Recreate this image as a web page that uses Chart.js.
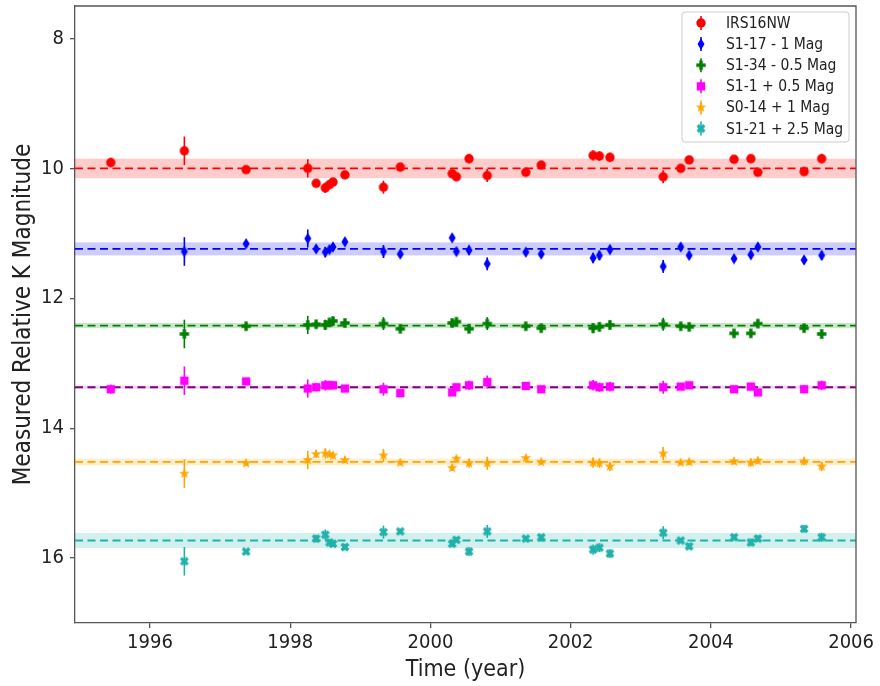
<!DOCTYPE html>
<html>
<head>
<meta charset="utf-8">
<script src="https://cdn.jsdelivr.net/npm/chart.js@4.4.1/dist/chart.umd.min.js"></script>
<style>
  html, body { margin: 0; padding: 0; background: #fff; }
  #wrap { width: 880px; height: 686px; position: relative; }
</style>
</head>
<body>
<div id="wrap"><canvas id="magChart"></canvas></div>
<script>
// observation epochs (decimal year)
const epochs = [1995.44, 1996.49, 1997.37, 1998.25, 1998.37, 1998.50, 1998.56, 1998.61, 1998.78,
  1999.33, 1999.57, 2000.31, 2000.37, 2000.55, 2000.81, 2001.36, 2001.58, 2002.32, 2002.41,
  2002.56, 2003.32, 2003.57, 2003.69, 2004.33, 2004.57, 2004.67, 2005.33, 2005.58];
// photometric error per epoch (mag)
const epochErr = [0.07, 0.22, 0.04, 0.14, 0.06, 0.08, 0.05, 0.05, 0.05, 0.10, 0.04, 0.05, 0.04,
  0.07, 0.10, 0.04, 0.04, 0.08, 0.07, 0.07, 0.10, 0.04, 0.05, 0.05, 0.06, 0.05, 0.06, 0.07];

const irs16nw = [9.91, 9.73, 10.02, 10.00, 10.23, 10.30, 10.25, 10.21, 10.10, 10.29, 9.98, 10.08, 10.13,
  9.85, 10.11, 10.06, 9.95, 9.80, 9.81, 9.83, 10.13, 10.00, 9.87, 9.86, 9.85, 10.06, 10.05, 9.85];
const s1_17 = [null, 11.28, 11.16, 11.08, 11.24, 11.29, 11.25, 11.21, 11.13, 11.28, 11.32, 11.07, 11.28,
  11.26, 11.47, 11.29, 11.32, 11.38, 11.34, 11.25, 11.51, 11.21, 11.34, 11.39, 11.33, 11.21, 11.41, 11.34];
const s1_34 = [null, 12.55, 12.43, 12.41, 12.40, 12.41, 12.37, 12.35, 12.38, 12.39, 12.47, 12.38, 12.36,
  12.47, 12.39, 12.43, 12.46, 12.46, 12.44, 12.41, 12.40, 12.43, 12.44, 12.54, 12.54, 12.39, 12.46, 12.55];
const s1_1 = [13.40, 13.27, 13.28, 13.39, 13.37, 13.34, 13.34, 13.34, 13.39, 13.40, 13.46, 13.45, 13.37,
  13.34, 13.29, 13.35, 13.40, 13.34, 13.37, 13.36, 13.37, 13.36, 13.34, 13.40, 13.36, 13.45, 13.40, 13.34];
const s0_14 = [null, 14.70, 14.54, 14.49, 14.40, 14.39, 14.40, 14.42, 14.49, 14.42, 14.53, 14.61, 14.47,
  14.54, 14.54, 14.46, 14.52, 14.53, 14.54, 14.59, 14.39, 14.53, 14.52, 14.51, 14.53, 14.50, 14.51, 14.59];
const s1_21 = [null, 16.05, 15.90, null, 15.70, 15.64, 15.76, 15.78, 15.83, 15.60, 15.59, 15.78, 15.72,
  15.90, 15.59, 15.70, 15.68, 15.87, 15.84, 15.93, 15.61, 15.73, 15.82, 15.68, 15.76, 15.70, 15.55, 15.68];

const starNames = ['IRS16NW', 'S1-17 - 1 Mag', 'S1-34 - 0.5 Mag', 'S1-1 + 0.5 Mag', 'S0-14 + 1 Mag', 'S1-21 + 2.5 Mag'];
const meanMag = [10.00, 11.24, 12.42, 13.37, 14.52, 15.73];
const bandHalf = [0.15, 0.10, 0.04, 0.025, 0.05, 0.115];

const xTicks = [1996, 1998, 2000, 2002, 2004, 2006];
const yTicks = [8, 10, 12, 14, 16];

const markColors = ['#ff0000', '#0000ff', '#008000', '#ff00ff', '#ffa500', '#20b2aa'];
const lineColors = ['#ff0000', '#0000ff', '#008000', '#800080', '#ffa500', '#20b2aa'];
const bandColors = ['rgba(255,0,0,0.2)', 'rgba(0,0,255,0.2)', 'rgba(0,128,0,0.2)',
  'rgba(128,0,128,0.15)', 'rgba(255,165,0,0.2)', 'rgba(32,178,170,0.2)'];
const shapes = ['circle', 'thinDiamond', 'plus', 'square', 'star', 'xFilled'];

const FONT = "'DejaVu Sans Condensed', 'DejaVu Sans', sans-serif";
Chart.defaults.font.family = FONT;

// small canvases used as point styles (matplotlib-like markers)
function makeMarker(shape, color) {
  const c = document.createElement('canvas');
  const s = 12;
  c.width = s; c.height = s;
  const g = c.getContext('2d');
  const m = s / 2;
  g.fillStyle = color;
  g.beginPath();
  if (shape === 'circle') {
    g.arc(m, m, 4.7, 0, Math.PI * 2);
  } else if (shape === 'thinDiamond') {
    g.moveTo(m, m - 5.7); g.lineTo(m + 3.5, m); g.lineTo(m, m + 5.7); g.lineTo(m - 3.5, m);
  } else if (shape === 'plus' || shape === 'xFilled') {
    const r = 4.7, t = 1.7;
    const pts = [[-t, -r], [t, -r], [t, -t], [r, -t], [r, t], [t, t], [t, r], [-t, r], [-t, t], [-r, t], [-r, -t], [-t, -t]];
    const a = shape === 'xFilled' ? Math.PI / 4 : 0;
    pts.forEach((p, i) => {
      const px = m + p[0] * Math.cos(a) - p[1] * Math.sin(a);
      const py = m + p[0] * Math.sin(a) + p[1] * Math.cos(a);
      if (i === 0) g.moveTo(px, py); else g.lineTo(px, py);
    });
  } else if (shape === 'square') {
    g.rect(m - 4.2, m - 4.2, 8.4, 8.4);
  } else if (shape === 'star') {
    for (let i = 0; i < 10; i++) {
      const r = i % 2 === 0 ? 5.5 : 2.3;
      const a = -Math.PI / 2 + i * Math.PI / 5;
      const px = m + r * Math.cos(a), py = m + r * Math.sin(a);
      if (i === 0) g.moveTo(px, py); else g.lineTo(px, py);
    }
  }
  g.closePath();
  g.fill();
  return c;
}

const markers = shapes.map((s, i) => makeMarker(s, markColors[i]));
const seriesVals = [irs16nw, s1_17, s1_34, s1_1, s0_14, s1_21];

const xMin = 1994.93, xMax = 2006.07;

const datasets = [];
seriesVals.forEach((vals, i) => {
  const pts = [];
  const errs = [];
  vals.forEach((v, j) => {
    if (v !== null) { pts.push({ x: epochs[j], y: v }); errs.push(epochErr[j]); }
  });
  datasets.push({
    label: starNames[i],
    data: pts,
    errs: errs,
    pointStyle: markers[i],
    pointRadius: 5,
    backgroundColor: markColors[i],
    borderColor: markColors[i],
    showLine: false,
    order: 1
  });
});
meanMag.forEach((m, i) => {
  datasets.push({
    label: 'mean ' + starNames[i],
    data: [{ x: xMin, y: m }, { x: xMax, y: m }],
    showLine: true,
    pointRadius: 0,
    borderColor: lineColors[i],
    borderWidth: 1.8,
    borderDash: [8, 4.5],
    order: 5
  });
});

// shaded bands around the mean magnitudes
const bandPlugin = {
  id: 'bands',
  beforeDatasetsDraw(chart) {
    const { ctx, chartArea, scales } = chart;
    ctx.save();
    meanMag.forEach((m, i) => {
      const y1 = scales.y.getPixelForValue(m - bandHalf[i]);
      const y2 = scales.y.getPixelForValue(m + bandHalf[i]);
      ctx.fillStyle = bandColors[i];
      ctx.fillRect(chartArea.left, y1, chartArea.right - chartArea.left, y2 - y1);
    });
    ctx.restore();
  }
};

// vertical error bars
const errorBarPlugin = {
  id: 'errbars',
  beforeDatasetDraw(chart, args) {
    const ds = chart.data.datasets[args.index];
    if (!ds.errs) return;
    const { ctx, scales } = chart;
    ctx.save();
    ctx.strokeStyle = ds.borderColor;
    ctx.lineWidth = 1.6;
    ds.data.forEach((p, k) => {
      const x = scales.x.getPixelForValue(p.x);
      ctx.beginPath();
      ctx.moveTo(x, scales.y.getPixelForValue(p.y - ds.errs[k]));
      ctx.lineTo(x, scales.y.getPixelForValue(p.y + ds.errs[k]));
      ctx.stroke();
    });
    ctx.restore();
  }
};

// top/right spines + legend box
const framePlugin = {
  id: 'frame',
  afterDraw(chart) {
    const { ctx, chartArea } = chart;
    ctx.save();
    ctx.strokeStyle = '#555';
    ctx.lineWidth = 1.3;
    ctx.beginPath();
    ctx.moveTo(chartArea.left, chartArea.top);
    ctx.lineTo(chartArea.right, chartArea.top);
    ctx.lineTo(chartArea.right, chartArea.bottom);
    ctx.stroke();

    // legend
    const bx = 682, by = 12, bw = 167, bh = 130;
    ctx.fillStyle = 'rgba(255,255,255,0.85)';
    ctx.strokeStyle = '#cccccc';
    ctx.lineWidth = 1;
    ctx.beginPath();
    ctx.roundRect(bx, by, bw, bh, 3);
    ctx.fill();
    ctx.stroke();
    ctx.font = '15.5px ' + FONT;
    ctx.textBaseline = 'middle';
    starNames.forEach((name, i) => {
      const ry = 23 + i * 21.1;
      ctx.strokeStyle = markColors[i];
      ctx.lineWidth = 1.6;
      ctx.beginPath();
      ctx.moveTo(701, ry - 7);
      ctx.lineTo(701, ry + 7);
      ctx.stroke();
      ctx.drawImage(markers[i], 701 - 6, ry - 6);
      ctx.fillStyle = '#222';
      ctx.fillText(name, 726, ry + 1);
    });
    ctx.restore();
  }
};

new Chart(document.getElementById('magChart'), {
  type: 'scatter',
  data: { datasets: datasets },
  plugins: [bandPlugin, errorBarPlugin, framePlugin],
  options: {
    responsive: true,
    maintainAspectRatio: false,
    animation: false,
    events: [],
    layout: { padding: { top: 4, right: 24, left: 0, bottom: 0 } },
    plugins: { legend: { display: false }, tooltip: { enabled: false } },
    scales: {
      x: {
        type: 'linear',
        min: xMin,
        max: xMax,
        afterBuildTicks: s => { s.ticks = xTicks.map(v => ({ value: v })); },
        afterFit: s => { s.height = 63; s.paddingLeft = 0; s.paddingRight = 0; },
        ticks: { callback: v => String(v), color: '#222', font: { size: 20 }, padding: 3, maxRotation: 0 },
        grid: { drawOnChartArea: false, tickLength: 5, color: '#555', lineWidth: 1.3 },
        border: { display: true, color: '#555', width: 1.3 },
        title: { display: true, text: 'Time (year)', color: '#222', font: { size: 23 }, padding: { top: 0, bottom: 2 } }
      },
      y: {
        type: 'linear',
        reverse: true,
        min: 7.5,
        max: 17.0,
        afterBuildTicks: s => { s.ticks = yTicks.map(v => ({ value: v })); },
        afterFit: s => { s.width = 75; s.paddingTop = 0; s.paddingBottom = 0; },
        ticks: { callback: v => String(v), color: '#222', font: { size: 20 }, padding: 6 },
        grid: { drawOnChartArea: false, tickLength: 5, color: '#555', lineWidth: 1.3 },
        border: { display: true, color: '#555', width: 1.3 },
        title: { display: true, text: 'Measured Relative K Magnitude', color: '#222', font: { size: 24 }, padding: { top: 9, bottom: 0 } }
      }
    }
  }
});
</script>
</body>
</html>
